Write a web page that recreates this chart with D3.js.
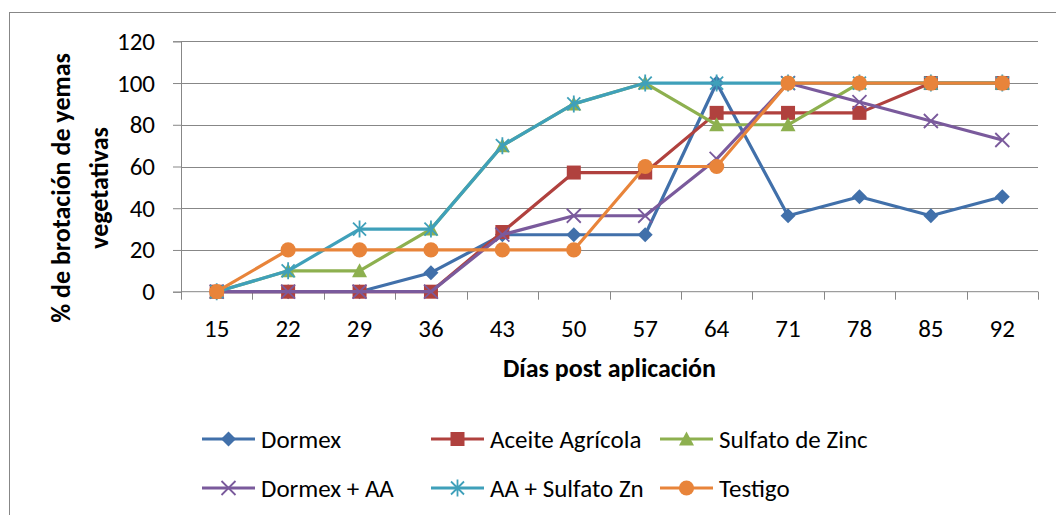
<!DOCTYPE html>
<html><head><meta charset="utf-8">
<script src="https://cdn.jsdelivr.net/npm/d3@7"></script>
<style>
html,body{margin:0;padding:0;background:#fff;}
svg text{font-family:Carlito,Calibri,Lato,sans-serif;fill:#000;}
</style></head>
<body>
<svg id="chart" width="1056" height="515"></svg>
<script>
const days = ["15","22","29","36","43","50","57","64","71","78","85","92"];
const yTicks = [0,20,40,60,80,100,120];
const seriesNames = ["Dormex","Aceite Agrícola","Sulfato de Zinc","Dormex + AA","AA + Sulfato Zn","Testigo"];
const dormex      = [0,0,0,9.1,27.3,27.3,27.3,100,36.4,45.5,36.4,45.5];
const aceite      = [0,0,0,0,28.6,57.1,57.1,85.7,85.7,85.7,100,100];
const sulfatoZinc = [0,10,10,30,70,90,100,80,80,100,100,100];
const dormexAA    = [0,0,0,0,27.3,36.4,36.4,63.6,100,90.9,81.8,72.7];
const aaSulfatoZn = [0,10,30,30,70,90,100,100,100,100,100,100];
const testigo     = [0,20,20,20,20,20,60,60,100,100,100,100];
const seriesValues = [dormex,aceite,sulfatoZinc,dormexAA,aaSulfatoZn,testigo];
const colors = ["#4170AA","#B0413E","#8DB04F","#7A5A9C","#3FA0BA","#E8843A"];
const markers = ["diamond","square","triangle","x","star","circle"];

const svg = d3.select("#chart");
const L=181, R=1038, T=41.3, B=291.7;
const x = d3.scaleBand().domain(days).range([L,R]).padding(0);
const y = d3.scaleLinear().domain([0,120]).range([B,T]);
const gray = "#878787";
const FS = 25;

// outer frame
svg.append("rect").attr("x",9.5).attr("y",12.5).attr("width",1100).attr("height",600)
  .attr("fill","none").attr("stroke",gray).attr("stroke-width",1);

// gridlines + y axis
const yAxis = d3.axisLeft(y).tickValues(yTicks).tickSize(8).tickPadding(18);
const gy = svg.append("g").attr("transform",`translate(${L},0)`).call(yAxis);
gy.select(".domain").attr("stroke",gray);
gy.selectAll(".tick line").attr("stroke",gray);
gy.selectAll(".tick text").attr("font-size",FS).style("font-family","Carlito,Calibri,Lato,sans-serif");
svg.append("g").selectAll("line").data(yTicks.filter(d=>d>0)).join("line")
  .attr("x1",L).attr("x2",R).attr("y1",d=>Math.round(y(d))+0.5).attr("y2",d=>Math.round(y(d))+0.5)
  .attr("stroke",gray).attr("stroke-width",1);

// x axis
const gx = svg.append("g").attr("transform",`translate(0,${B})`);
gx.append("line").attr("x1",L).attr("x2",R).attr("y1",0).attr("y2",0).attr("stroke",gray);
const edges = days.map(d=>x(d)).concat([R]);
gx.selectAll("line.tk").data(edges).join("line").attr("class","tk")
  .attr("x1",d=>Math.round(d)+0.5).attr("x2",d=>Math.round(d)+0.5).attr("y1",0).attr("y2",8).attr("stroke",gray);
gx.selectAll("text").data(days).join("text")
  .attr("x",d=>x(d)+x.bandwidth()/2).attr("y",45).attr("text-anchor","middle")
  .attr("font-size",FS).text(d=>d);

// axis titles
svg.append("text").attr("x",(L+R)/2).attr("y",377).attr("text-anchor","middle")
  .attr("font-size",26).attr("font-weight","bold").text("Días post aplicación");
const yt = svg.append("text").attr("transform","translate(0,188) rotate(-90)")
  .attr("text-anchor","middle").attr("font-size",26).attr("font-weight","bold");
yt.append("tspan").attr("x",0).attr("y",70).text("% de brotación de yemas");
yt.append("tspan").attr("x",0).attr("y",108).text("vegetativas");

// marker drawing
function drawMarker(g, type, color){
  if(type==="diamond"){
    g.append("path").attr("d","M0,-7.5L7.5,0L0,7.5L-7.5,0Z").attr("fill",color);
  } else if(type==="square"){
    g.append("rect").attr("x",-7).attr("y",-7).attr("width",14).attr("height",14).attr("fill",color);
  } else if(type==="triangle"){
    g.append("path").attr("d","M0,-7.5L7.5,6.5L-7.5,6.5Z").attr("fill",color);
  } else if(type==="circle"){
    g.append("circle").attr("r",7.6).attr("fill",color);
  } else if(type==="x"){
    g.append("path").attr("d","M-7,-7L7,7M-7,7L7,-7").attr("stroke",color).attr("stroke-width",1.8).attr("fill","none");
  } else if(type==="star"){
    g.append("path").attr("d","M-6.5,-6.5L6.5,6.5M-6.5,6.5L6.5,-6.5M0,-8.5L0,8.5").attr("stroke",color).attr("stroke-width",1.8).attr("fill","none");
  }
}

const line = d3.line().x((d,i)=>x(days[i])+x.bandwidth()/2).y(d=>y(d));
seriesValues.forEach((vals,si)=>{
  const g = svg.append("g");
  g.append("path").datum(vals).attr("d",line).attr("fill","none")
    .attr("stroke",colors[si]).attr("stroke-width",3.2).attr("stroke-linejoin","round");
  vals.forEach((v,i)=>{
    const mg = g.append("g").attr("transform",`translate(${x(days[i])+x.bandwidth()/2},${y(v)})`);
    drawMarker(mg, markers[si], colors[si]);
  });
});

// legend
const legX = [202,431,660], legY = [439,488];
seriesNames.forEach((name,i)=>{
  const col=i%3,row=Math.floor(i/3);
  const g = svg.append("g").attr("transform",`translate(${legX[col]},${legY[row]})`);
  g.append("line").attr("x1",0).attr("x2",53).attr("y1",0).attr("y2",0)
    .attr("stroke",colors[i]).attr("stroke-width",3.2);
  const mg = g.append("g").attr("transform","translate(26.5,0)");
  drawMarker(mg, markers[i], colors[i]);
  g.append("text").attr("x",59).attr("y",0).attr("dy","0.35em").attr("font-size",FS).text(name);
});
</script>
</body></html>
